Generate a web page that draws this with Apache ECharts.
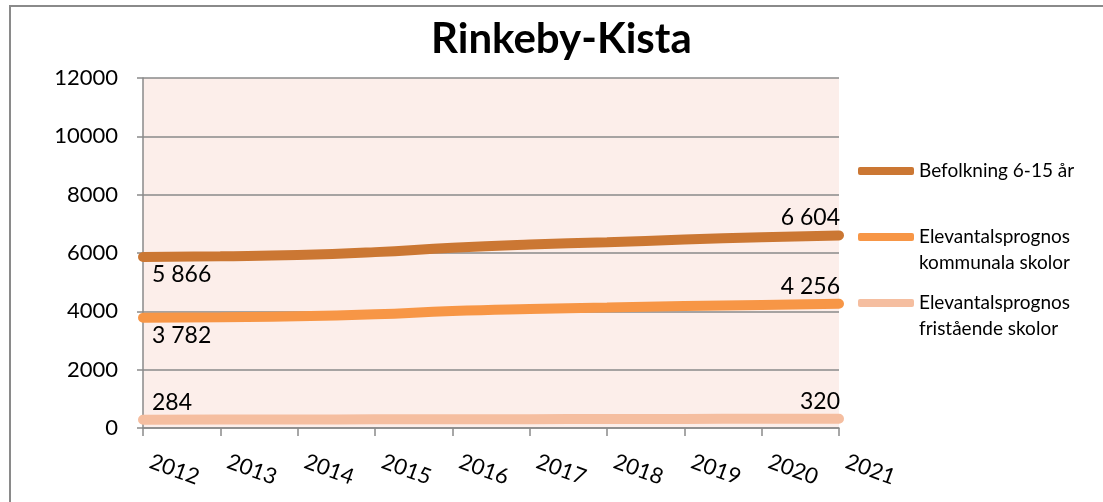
<!DOCTYPE html>
<html>
<head>
<meta charset="utf-8">
<script src="https://cdn.jsdelivr.net/npm/echarts@6/dist/echarts.min.js"></script>
<style>
  html, body { margin: 0; padding: 0; background: #fff; }
  #chart { width: 1103px; height: 502px; }
</style>
</head>
<body>
<div id="chart"></div>
<script>
// kategorier (år)
const years = ['2012', '2013', '2014', '2015', '2016', '2017', '2018', '2019', '2020', '2021'];
// serier
const befolkning = [5866, 5890, 5930, 6030, 6180, 6290, 6370, 6460, 6540, 6604];
const kommunala = [3782, 3800, 3830, 3900, 4010, 4080, 4130, 4180, 4220, 4256];
const fristaende = [284, 288, 292, 296, 300, 304, 308, 312, 316, 320];
const yTicks = [0, 2000, 4000, 6000, 8000, 10000, 12000];

const names = ['Befolkning 6-15 år', 'Elevantalsprognos\nkommunala skolor', 'Elevantalsprognos\nfristående skolor'];
const colors = ['#CB7733', '#F79646', '#F5BEA0'];

const font = 'Lato, "Open Sans", sans-serif';

// etikett bara på första och sista punkten
function withLabels(arr, firstPos) {
    return arr.map((v, i) => {
        if (i === 0) {
            return { value: v, label: { show: true, position: firstPos, align: 'left', offset: [9, 0] } };
        }
        if (i === arr.length - 1) {
            return { value: v, label: { show: true, position: 'top', align: 'right', offset: [1, 0] } };
        }
        return v;
    });
}

function fmt(p) {
    return String(p.value).replace(/\B(?=(\d{3})+(?!\d))/g, ' ');
}

let chart = echarts.init(document.getElementById('chart'));

const lineSeries = [befolkning, kommunala, fristaende].map((arr, k) => ({
    name: names[k],
    type: 'line',
    smooth: true,
    symbol: 'circle',
    symbolSize: 0,
    showSymbol: true,
    data: withLabels(arr, k === 2 ? 'top' : 'bottom'),
    lineStyle: { width: 10, color: colors[k], cap: 'round' },
    itemStyle: { color: colors[k] },
    label: { show: false, color: '#000', fontSize: 23, fontFamily: font, formatter: fmt, distance: 6 },
    z: 3 - k
}));

chart.setOption({
    animation: false,
    backgroundColor: '#fff',
    title: {
        text: 'Rinkeby-Kista',
        left: 426,
        top: 13,
        textStyle: { fontSize: 42, fontWeight: 'bold', color: '#000', fontFamily: font }
    },
    graphic: [{
        type: 'rect',
        shape: { x: 10, y: 6, width: 1200, height: 700 },
        style: { fill: 'none', stroke: '#8a8a8a', lineWidth: 2 },
        silent: true
    }],
    legend: [0, 1, 2].map(k => ({
        orient: 'vertical',
        left: 853,
        top: [153, 193, 259][k],
        data: [names[k]],
        // tom första rad så att ikonen hamnar vid första textraden
        formatter: k === 0 ? '{name}' : (name => ' \n' + name),
        icon: 'roundRect',
        itemWidth: 56,
        itemHeight: 8,
        itemGap: 0,
        textStyle: { fontSize: 19, color: '#000', fontFamily: font, lineHeight: 26 }
    })),
    grid: {
        left: 143,
        right: 264,
        top: 78,
        bottom: 74,
        show: true,
        backgroundColor: '#FCEEEA',
        borderWidth: 0
    },
    xAxis: {
        type: 'category',
        data: years,
        boundaryGap: false,
        axisLine: { lineStyle: { color: '#8a8a8a', width: 1.5 } },
        axisTick: { show: true, alignWithLabel: true, length: 8, lineStyle: { color: '#8a8a8a', width: 1.5 } },
        axisLabel: { rotate: -20, margin: 30, fontSize: 22, color: '#000', fontFamily: font, interval: 0, padding: [0, 0, 0, 8] }
    },
    yAxis: {
        type: 'value',
        min: yTicks[0],
        max: yTicks[yTicks.length - 1],
        interval: 2000,
        axisLine: { show: true, lineStyle: { color: '#8a8a8a', width: 1.5 } },
        axisTick: { show: true, length: 6, lineStyle: { color: '#8a8a8a', width: 1.5 } },
        splitLine: { lineStyle: { color: '#8a8a8a', width: 1.5 } },
        axisLabel: { margin: 25, fontSize: 22, color: '#000', fontFamily: font, formatter: v => String(v) }
    },
    series: lineSeries
});
</script>
</body>
</html>
